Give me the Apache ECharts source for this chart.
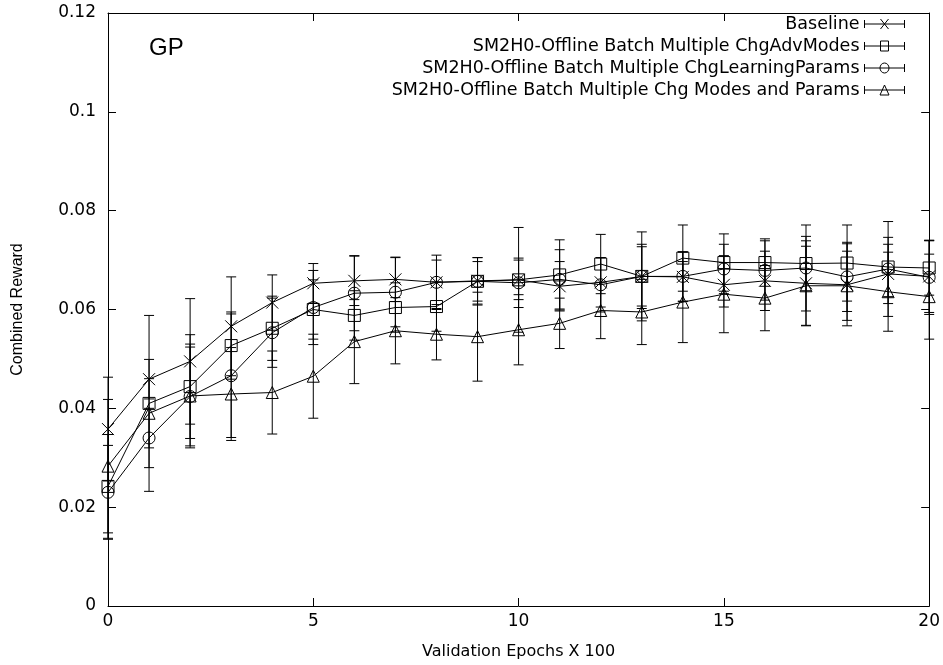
<!DOCTYPE html>
<html>
<head>
<meta charset="utf-8">
<script src="https://cdn.jsdelivr.net/npm/echarts@6/dist/echarts.min.js"></script>
<style>html,body{margin:0;padding:0;background:#fff}#c{width:943px;height:665px}</style>
</head>
<body>
<div id="c"></div>
<script>
const epochs = [0,1,2,3,4,5,6,7,8,9,10,11,12,13,14,15,16,17,18,19,20];
const seriesNames = [
  'Baseline',
  'SM2H0-Offline Batch Multiple ChgAdvModes',
  'SM2H0-Offline Batch Multiple ChgLearningParams',
  'SM2H0-Offline Batch Multiple Chg Modes and Params'
];
const baseline = [0.0358,0.0459,0.0495,0.0566,0.0614,0.0653,0.0658,0.0661,0.0655,0.0658,0.0660,0.0647,0.0655,0.0667,0.0666,0.0650,0.0658,0.0653,0.0650,0.0672,0.0667];
const baselineErr = [0.0105,0.0040,0.0127,0.0100,0.0056,0.0040,0.0050,0.0045,0.0055,0.0047,0.0040,0.0050,0.0050,0.0090,0.0050,0.0045,0.0060,0.0086,0.0083,0.0060,0.0073];
const advModes = [0.0242,0.0410,0.0444,0.0527,0.0562,0.0600,0.0588,0.0604,0.0606,0.0657,0.0660,0.0670,0.0692,0.0667,0.0704,0.0695,0.0695,0.0693,0.0694,0.0686,0.0684];
const advModesErr = [0.0105,0.0178,0.0105,0.0068,0.0065,0.0060,0.0050,0.0050,0.0050,0.0048,0.0106,0.0071,0.0060,0.0060,0.0067,0.0058,0.0048,0.0055,0.0077,0.0060,0.0055];
const learnParams = [0.0230,0.0340,0.0424,0.0466,0.0553,0.0604,0.0633,0.0635,0.0655,0.0657,0.0654,0.0661,0.0650,0.0667,0.0667,0.0682,0.0679,0.0684,0.0666,0.0682,0.0665];
const learnParamsErr = [0.0095,0.0060,0.0100,0.0125,0.0070,0.0075,0.0076,0.0070,0.0045,0.0040,0.0050,0.0060,0.0055,0.0065,0.0050,0.0050,0.0060,0.0087,0.0070,0.0096,0.0075];
const modesParams = [0.0283,0.0390,0.0425,0.0429,0.0432,0.0465,0.0535,0.0557,0.0550,0.0545,0.0559,0.0572,0.0598,0.0595,0.0615,0.0631,0.0623,0.0648,0.0648,0.0636,0.0626];
const modesParamsErr = [0.0135,0.0070,0.0105,0.0094,0.0084,0.0085,0.0085,0.0067,0.0052,0.0090,0.0071,0.0051,0.0057,0.0066,0.0082,0.0078,0.0066,0.0080,0.0070,0.0080,0.0086];

const FONT = 'Liberation Sans, Arial, Helvetica, sans-serif';
const WIDE = 'DejaVu Sans, Verdana, sans-serif';
const values = [baseline, advModes, learnParams, modesParams];
const errs = [baselineErr, advModesErr, learnParamsErr, modesParamsErr];
const symbols = [
  'path://M0,0L10,10M10,0L0,10',
  'path://M0,0L10,0L10,10L0,10Z',
  'path://M10,5A5,5,0,1,1,0,5A5,5,0,1,1,10,5Z',
  'path://M5,0L10,10L0,10Z'
];
const markerPaths = [
  'M16,1L24,11M24,1L16,11',
  'M16,1L24,1L24,11L16,11Z',
  'M24.5,6A4.5,5,0,1,1,15.5,6A4.5,5,0,1,1,24.5,6Z',
  'M20,1L24.5,11L15.5,11Z'
];
const legendIcons = markerPaths.map(m => 'path://M0,6L40,6M0,2L0,10M40,2L40,10' + m);

const series = [];
values.forEach((vals, i) => {
  series.push({
    type: 'custom',
    name: 'err' + i,
    z: 1,
    silent: true,
    data: epochs.map((x, j) => [x, vals[j] - errs[i][j], vals[j] + errs[i][j]]),
    encode: { x: 0, y: [1, 2] },
    renderItem: function (params, api) {
      const lo = api.coord([api.value(0), api.value(1)]);
      const hi = api.coord([api.value(0), api.value(2)]);
      const hw = 5;
      return {
        type: 'group',
        children: [
          { type: 'line', shape: { x1: lo[0], y1: lo[1], x2: hi[0], y2: hi[1] }, style: { stroke: '#000', lineWidth: 1 } },
          { type: 'line', shape: { x1: lo[0] - hw, y1: lo[1], x2: lo[0] + hw, y2: lo[1] }, style: { stroke: '#000', lineWidth: 1 } },
          { type: 'line', shape: { x1: hi[0] - hw, y1: hi[1], x2: hi[0] + hw, y2: hi[1] }, style: { stroke: '#000', lineWidth: 1 } }
        ]
      };
    }
  });
});
values.forEach((vals, i) => {
  series.push({
    type: 'line',
    name: seriesNames[i],
    z: 3,
    data: epochs.map((x, j) => [x, vals[j]]),
    symbol: symbols[i],
    symbolSize: 12,
    showSymbol: true,
    lineStyle: { color: '#000', width: 1 },
    itemStyle: { color: 'none', borderColor: '#000', borderWidth: 1 },
    emphasis: { disabled: true }
  });
});

function axisCommon() {
  return {
    axisLine: { show: true, onZero: false, lineStyle: { color: '#000', width: 1 } },
    axisTick: { show: true, inside: true, length: 8, lineStyle: { color: '#000' } },
    splitLine: { show: false }
  };
}

const chart = echarts.init(document.getElementById('c'), null, { renderer: 'canvas' });
chart.setOption({
  animation: false,
  backgroundColor: '#fff',
  title: { text: 'GP', left: 144, top: 31, textStyle: { fontFamily: FONT, fontSize: 24, fontWeight: 'normal', color: '#000' } },
  grid: { left: 108, right: 13, top: 13, bottom: 58, show: false },
  legend: {
    orient: 'vertical', right: 31, top: 10, align: 'right',
    itemWidth: 40, itemHeight: 12, itemGap: 4,
    selectedMode: false,
    textStyle: { fontFamily: WIDE, fontSize: 17.5, color: '#000' },
    itemStyle: { color: 'none', borderColor: '#000', borderWidth: 1 },
    data: seriesNames.map((n, i) => ({ name: n, icon: legendIcons[i] }))
  },
  xAxis: [
    Object.assign({ type: 'value', min: 0, max: 20, interval: 5, position: 'bottom',
      name: 'Validation Epochs X 100', nameLocation: 'middle', nameGap: 38,
      nameTextStyle: { fontFamily: WIDE, fontSize: 16, color: '#000' },
      axisLabel: { fontFamily: WIDE, fontSize: 17, color: '#000', margin: 7 } }, axisCommon()),
    Object.assign({ type: 'value', min: 0, max: 20, interval: 5, position: 'top', axisLabel: { show: false } }, axisCommon())
  ],
  yAxis: [
    Object.assign({ type: 'value', min: 0, max: 0.12, interval: 0.02, position: 'left',
      name: 'Combined Reward', nameLocation: 'middle', nameGap: 82,
      nameTextStyle: { fontFamily: FONT, fontSize: 16, color: '#000' },
      axisLabel: { fontFamily: WIDE, fontSize: 17, color: '#000', margin: 12, formatter: v => String(+v.toFixed(2)) } }, axisCommon()),
    Object.assign({ type: 'value', min: 0, max: 0.12, interval: 0.02, position: 'right', axisLabel: { show: false } }, axisCommon())
  ],
  series: series
});
</script>
</body>
</html>
